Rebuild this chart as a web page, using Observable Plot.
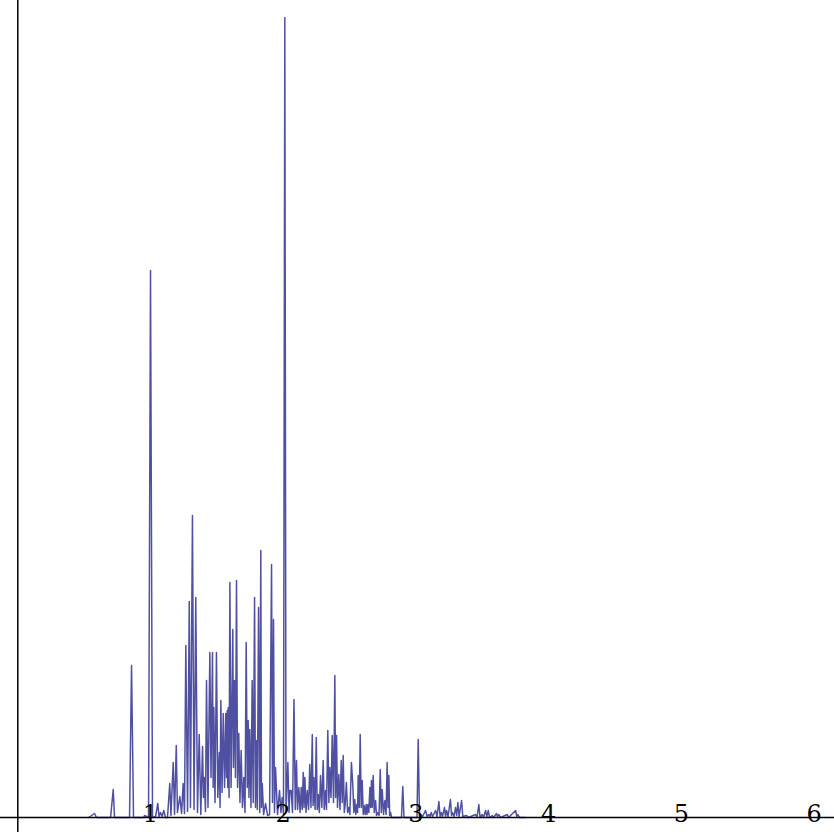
<!DOCTYPE html>
<html>
<head>
<meta charset="utf-8">
<script src="https://cdn.jsdelivr.net/npm/d3@7"></script>
<script src="https://cdn.jsdelivr.net/npm/@observablehq/plot@0.6"></script>
<style>
  html, body { margin: 0; padding: 0; background: #fff; }
  #chart svg { display: block; }
</style>
</head>
<body>
<div id="chart"></div>
<script>
// x positions of the sampled points (data units)
const xs = [0.533,0.578,0.593,0.699,0.719,0.729,0.842,0.857,0.872,0.947,0.955,0.985,1.000,1.015,1.038,1.055,1.064,1.075,1.087,1.100,1.113,1.128,1.145,1.154,1.171,1.181,1.194,1.203,1.221,1.234,1.246,1.256,1.266,1.279,1.292,1.301,1.316,1.328,1.341,1.354,1.367,1.379,1.392,1.399,1.405,1.414,1.422,1.433,1.447,1.456,1.467,1.472,1.477,1.486,1.497,1.507,1.518,1.524,1.530,1.539,1.548,1.558,1.567,1.573,1.578,1.582,1.586,1.592,1.598,1.607,1.620,1.625,1.633,1.640,1.648,1.656,1.665,1.674,1.683,1.693,1.703,1.712,1.721,1.729,1.736,1.742,1.748,1.757,1.766,1.774,1.784,1.791,1.797,1.805,1.814,1.823,1.831,1.836,1.842,1.852,1.867,1.882,1.897,1.912,1.919,1.927,1.934,1.942,1.957,1.972,1.983,1.992,2.002,2.012,2.021,2.025,2.035,2.044,2.050,2.060,2.070,2.081,2.091,2.100,2.108,2.118,2.127,2.136,2.143,2.151,2.157,2.163,2.172,2.181,2.191,2.200,2.209,2.219,2.225,2.231,2.240,2.249,2.256,2.264,2.272,2.281,2.291,2.301,2.309,2.319,2.326,2.336,2.344,2.351,2.360,2.369,2.379,2.389,2.395,2.402,2.409,2.419,2.428,2.437,2.445,2.452,2.460,2.467,2.476,2.485,2.494,2.502,2.514,2.524,2.532,2.539,2.547,2.555,2.560,2.565,2.573,2.580,2.588,2.595,2.603,2.610,2.618,2.625,2.631,2.638,2.645,2.653,2.659,2.665,2.671,2.678,2.686,2.696,2.703,2.713,2.722,2.731,2.739,2.746,2.756,2.766,2.775,2.783,2.790,2.796,2.802,2.809,2.816,2.891,2.901,2.910,3.008,3.017,3.027,3.035,3.050,3.072,3.084,3.097,3.106,3.115,3.125,3.148,3.159,3.173,3.182,3.191,3.200,3.215,3.223,3.231,3.242,3.260,3.268,3.275,3.287,3.298,3.307,3.316,3.325,3.344,3.353,3.381,3.396,3.449,3.460,3.474,3.483,3.499,3.509,3.525,3.534,3.545,3.555,3.575,3.585,3.607,3.615,3.625,3.638,3.688,3.698,3.751,3.760,3.768,3.781,3.826];

// values at those points (arbitrary units)
const ys = [0,4,0,0,28,0,0,152,0,0,2,0,547,0,1,14,1,5,1,7,0,0,34,2,55,3,72,5,21,4,34,4,172,6,216,10,302,8,220,5,83,3,71,20,40,6,137,10,165,40,165,30,110,15,165,20,65,10,117,25,104,30,104,40,107,30,110,20,235,30,188,50,137,40,237,30,84,15,67,10,40,5,175,30,97,20,88,10,137,15,220,10,77,8,210,5,267,10,34,3,14,2,3,253,15,198,5,50,3,27,5,20,3,800,5,20,55,5,27,27,5,118,8,57,8,30,5,30,8,45,10,40,5,27,8,53,10,83,12,40,8,80,8,23,5,42,10,57,8,27,8,87,15,50,20,82,15,142,20,82,10,43,8,57,15,62,5,13,35,5,10,3,55,33,5,18,3,13,5,42,10,83,10,37,3,12,3,13,3,13,5,30,10,37,10,42,5,17,2,5,2,48,5,28,3,17,3,55,10,42,2,5,0,0,31,0,0,78,1,3,1,7,1,3,1,5,1,7,1,16,1,5,1,10,1,7,1,18,2,5,1,10,2,15,1,17,1,2,0,3,0,13,0,3,0,7,1,7,0,2,0,4,1,3,0,3,0,7,1,3,0,0];

const tickValues = [1, 2, 3, 4, 5, 6];
const tickLabels = ["1", "2", "3", "4", "5", "6"];

const points = xs.map((x, i) => ({x, y: ys[i]}));
const ticks = tickValues.map((v, i) => ({v, label: tickLabels[i]}));

const chart = Plot.plot({
  width: 834,
  height: 834,
  marginLeft: 0,
  marginRight: 0,
  marginTop: 17,
  marginBottom: 17,
  x: {domain: [-0.1304, 6.154], axis: null},
  y: {domain: [0, 800], axis: null},
  style: {background: "#fff", fontFamily: "'DejaVu Serif', 'Liberation Serif', serif"},
  marks: [
    Plot.line(points, {x: "x", y: "y", stroke: "#3d3d99", strokeWidth: 1.5, strokeOpacity: 0.9}),
    Plot.ruleY([0], {x1: -0.1304, x2: 6.154, stroke: "#000", strokeWidth: 1.5}),
    Plot.ruleX([0], {y1: -15, y2: 817, stroke: "#000", strokeWidth: 1.5}),
    Plot.text(ticks, {x: "v", y: 3, text: "label", lineAnchor: "middle", textAnchor: "middle",
      fontSize: 24, fontFamily: "'DejaVu Serif', 'Liberation Serif', serif", fill: "#000"})
  ]
});
document.getElementById("chart").appendChild(chart);
</script>
</body>
</html>
